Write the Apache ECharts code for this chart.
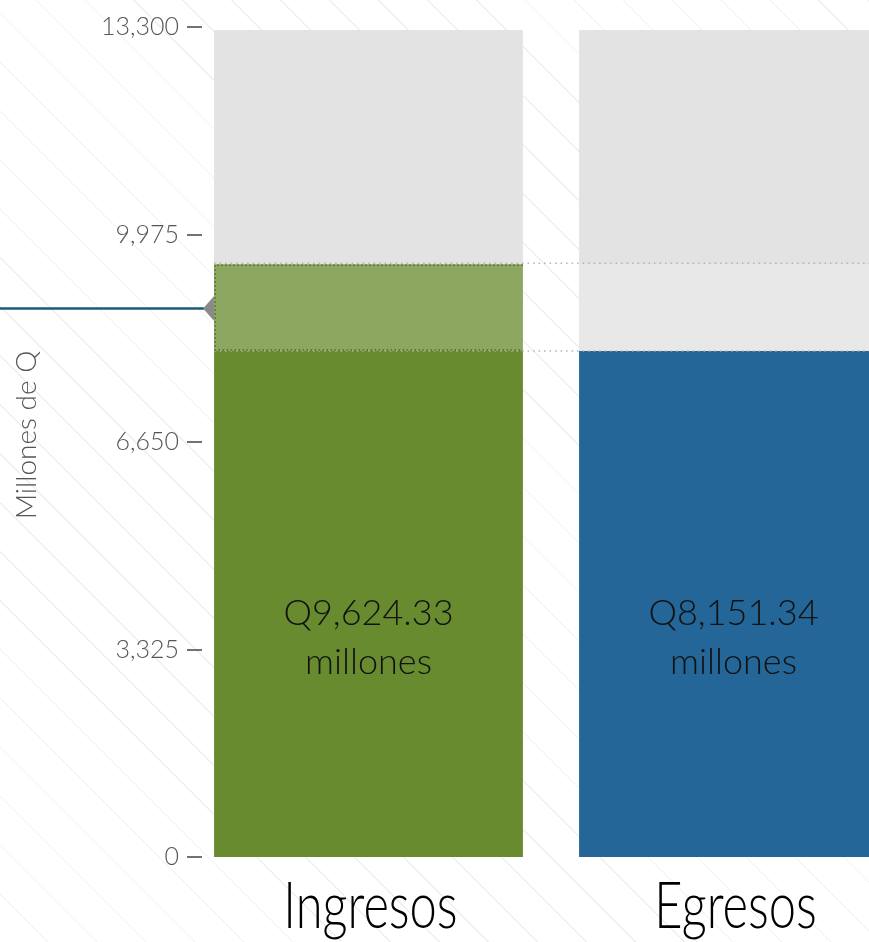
<!DOCTYPE html>
<html>
<head>
<meta charset="utf-8">
<script src="https://cdn.jsdelivr.net/npm/echarts@6/dist/echarts.min.js"></script>
<style>
  html, body { margin: 0; padding: 0; }
  body {
    width: 869px; height: 942px; overflow: hidden;
    background: #fff repeating-linear-gradient(45deg, #fff 0px, #fff 33.5px, #efefef 33.5px, #efefef 34.6px);
  }
  #chart { width: 960px; height: 942px; }
</style>
</head>
<body>
<div id="chart"></div>
<script>
var categories = ['Ingresos', 'Egresos'];
var barValues = [9500, 8110];          // bar tops as drawn
var labelValues = [9624.33, 8151.34];  // amounts written inside the bars
var backgroundValues = [13250, 13250];
var referenceValue = 8790;
var yMin = 0, yMax = 13300, yStep = 3325;

var low = Math.min.apply(null, barValues);
var high = Math.max.apply(null, barValues);
var baseData = categories.map(function () { return low; });
var diffData = categories.map(function () { return high - low; });

var thin = "'Lato', 'Open Sans', sans-serif";

function fmt(v) {
    return 'Q' + v.toLocaleString('en-US', {minimumFractionDigits: 2, maximumFractionDigits: 2});
}

var option = {
    animation: false,
    backgroundColor: 'transparent',
    grid: { left: 186, width: 730, top: 27, bottom: 85 },
    xAxis: {
        type: 'category',
        data: categories,
        axisLine: { show: false },
        axisTick: { show: false },
        axisLabel: { show: false }
    },
    yAxis: {
        type: 'value',
        min: yMin, max: yMax, interval: yStep,
        offset: -16,
        name: 'Millones de Q',
        nameLocation: 'middle',
        nameGap: 161,
        nameTextStyle: { fontFamily: thin, fontSize: 28, color: '#555', fontWeight: 300, padding: [0, 0, 0, 14] },
        splitLine: { show: false },
        axisLine: { show: false },
        axisTick: { show: true, length: 15, lineStyle: { color: '#444', width: 1.5 } },
        axisLabel: {
            margin: 23, fontFamily: thin, fontSize: 25, color: '#555', fontWeight: 300,
            formatter: function (v) { return v.toLocaleString('en-US'); }
        }
    },
    series: [
        {
            name: 'fondo', type: 'bar', data: backgroundValues, barWidth: '84.6%',
            itemStyle: { color: '#e3e3e3' }, silent: true, z: 1
        },
        {
            name: 'base', type: 'bar', stack: 'a', barWidth: '84.6%', barGap: '-100%', z: 2,
            data: baseData.map(function (v, i) {
                return { value: v, itemStyle: { color: i === 0 ? '#688b2f' : '#236697' } };
            }),
            label: {
                show: true, position: ['50%', '56.7%'], align: 'center', verticalAlign: 'middle',
                fontFamily: thin, fontSize: 36, lineHeight: 49, color: '#111', fontWeight: 300,
                formatter: function (p) { return fmt(labelValues[p.dataIndex]) + '\nmillones'; }
            }
        },
        {
            name: 'diferencia', type: 'bar', stack: 'a', barWidth: '84.6%', z: 2,
            data: diffData.map(function (v, i) {
                return { value: v, itemStyle: { color: i === 0 ? '#8ca860' : '#e8e8e8' } };
            })
        },
        {
            // category names, narrowed like the original typeface
            name: 'categorias', type: 'custom', clip: false, z: 5, silent: true,
            data: categories.map(function (c, i) { return [i, 0]; }),
            renderItem: function (params, api) {
                var p = api.coord([api.value(0), 0]);
                return {
                    type: 'text',
                    x: p[0] + 2, y: p[1] + 50,
                    scaleX: 0.74,
                    style: {
                        text: categories[params.dataIndex],
                        x: 0, y: 0,
                        align: 'center', verticalAlign: 'middle',
                        font: "300 66px 'Lato', sans-serif",
                        fill: '#000'
                    }
                };
            }
        },
        {
            name: 'guias', type: 'custom', clip: false, z: 5, silent: true,
            data: [[0, 0]],
            renderItem: function (params, api) {
                var band = api.size([1, 0])[0];
                var barW = band * 0.846;
                var x0 = api.coord([0, 0])[0] - barW / 2;
                var right = x0 + 2 * band;
                var yHi = api.coord([0, high])[1];
                var yLo = api.coord([0, low])[1];
                var yRef = api.coord([0, referenceValue])[1];
                var dot = { stroke: '#b3b3b3', lineWidth: 1.5, lineDash: [1.5, 4] };
                return {
                    type: 'group',
                    children: [
                        { type: 'line', shape: { x1: x0, y1: yHi - 1, x2: right, y2: yHi - 1 }, style: dot },
                        { type: 'line', shape: { x1: x0, y1: yLo, x2: right, y2: yLo }, style: dot },
                        {
                            type: 'polyline',
                            shape: { points: [[x0 + barW, yHi + 1], [x0 + 1, yHi + 1], [x0 + 1, yLo - 1], [x0 + barW, yLo - 1]] },
                            style: { stroke: '#4b6a22', lineWidth: 1.5, lineDash: [1.5, 2.5], fill: null }
                        },
                        { type: 'line', shape: { x1: 0, y1: yRef, x2: x0 - 10, y2: yRef }, style: { stroke: '#1b5a7b', lineWidth: 2.5 } },
                        {
                            type: 'polygon',
                            shape: { points: [[x0 - 11, yRef], [x0, yRef - 12.5], [x0, yRef + 12.5]] },
                            style: { fill: '#8a8a8a' }
                        }
                    ]
                };
            }
        }
    ]
};

var myChart = echarts.init(document.getElementById('chart'));
myChart.setOption(option);
</script>
</body>
</html>
